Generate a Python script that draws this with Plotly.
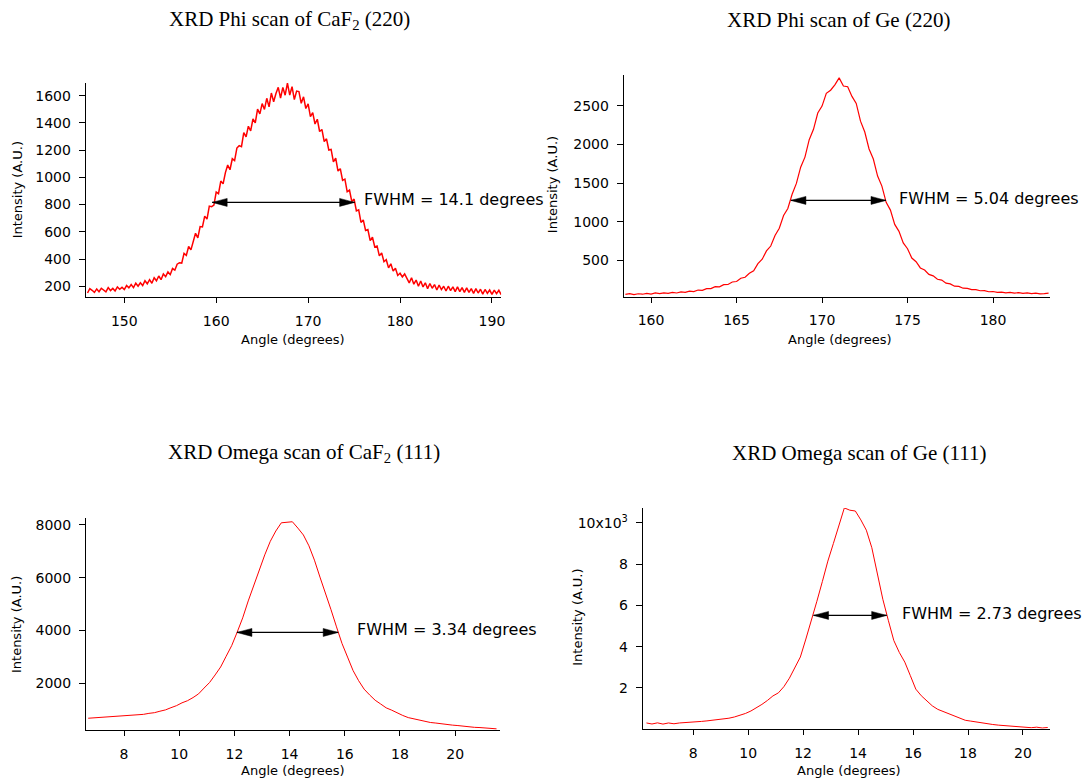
import plotly.graph_objects as go

W, H = 1089, 780

# ---------------- data ----------------
# Phi scan of CaF2 (220): angle grid start/step and intensities
phi_caf2_start, phi_caf2_step = 146.0, 0.25
phi_caf2_intensity = [
    150, 182, 170, 155,   180, 160, 185, 172,   158, 190, 168, 184,   165, 195, 178, 192,
    175, 205, 188, 212,   190, 222, 200, 225,   205, 240, 218, 248,   222, 262, 240, 275,
    248, 290, 270, 305,   285, 330, 318, 362,   373, 370, 441, 427,   492, 467, 538, 589,
    555, 638, 636, 715,   693, 789, 785, 796,   892, 880, 973, 952,   1035, 1091, 1056, 1137,
    1123, 1215, 1233, 1225, 1328, 1297, 1376, 1341, 1430, 1400, 1501, 1466, 1542, 1499, 1581, 1518,
    1620, 1556, 1616, 1662, 1583, 1661, 1604, 1692, 1605, 1666, 1572, 1634, 1630, 1544, 1592, 1506,
    1540, 1446, 1476, 1392, 1427, 1337, 1352, 1263, 1283, 1201, 1205, 1113, 1142, 1046, 1064, 978,
    987, 894, 906, 823,   840, 753, 761, 669,   687, 610, 617, 535,   560, 489, 496, 423,
    445, 380, 395, 335,   365, 311, 332, 279,   295, 268, 290, 255,   225, 262, 215, 245,
    200, 238, 195, 225,   182, 220, 185, 212,   172, 208, 175, 200,   165, 200, 168, 195,
    160, 195, 160, 190,   155, 188, 155, 182,   148, 182, 150, 178,   142, 176, 148, 172,
    140, 172, 145, 170,   138,
]

# Phi scan of Ge (220)
phi_ge_start, phi_ge_step = 158.5, 0.25
phi_ge_intensity = [
    60, 70, 58, 68, 62, 74, 64, 78, 70, 80,
    74, 86, 78, 92, 86, 102, 96, 116, 112, 134,
    134, 160, 158, 186, 188, 220, 226, 268, 282, 332,
    365, 458, 515, 622, 685, 822, 915, 1080, 1170, 1355,
    1495, 1705, 1835, 2060, 2195, 2405, 2495, 2660, 2700, 2770,
    2860, 2755, 2745, 2620, 2530, 2300, 2160, 1940, 1810, 1590,
    1460, 1250, 1150, 965, 875, 725, 650, 530, 482, 402,
    375, 318, 300, 255, 245, 205, 196, 166, 163, 140,
    138, 121, 122, 107, 108, 94, 97, 86, 90, 80,
    85, 76, 82, 72, 79, 70, 75, 66, 70, 76,
]

# Omega scan of CaF2 (111)
omega_caf2_start, omega_caf2_step = 6.7, 0.2
omega_caf2_intensity = [
    690, 705, 708, 725, 732, 752, 758, 780, 790, 818,
    836, 874, 900, 955, 1005, 1088, 1165, 1272, 1352, 1470,
    1610, 1830, 2040, 2325, 2625, 3030, 3430, 3940, 4480, 5120,
    5700, 6340, 6860, 7370, 7760, 8070, 8100, 8110, 7870, 7610,
    7200, 6660, 6020, 5430, 4790, 4140, 3510, 3000, 2490, 2110,
    1790, 1570, 1370, 1228, 1082, 995, 884, 795, 714, 664,
    604, 568, 530, 508, 476, 458, 430, 413, 386, 372,
    346, 338, 314, 307, 290,
]

# Omega scan of Ge (111)
omega_ge_start, omega_ge_step = 6.3, 0.2
omega_ge_intensity = [
    300, 250, 305, 245, 300, 260, 300, 310, 330, 345,
    375, 400, 425, 455, 490, 530, 590, 660, 760, 880,
    1030, 1200, 1390, 1610, 1760, 2060, 2470, 2950, 3500, 4370,
    5250, 6200, 7160, 8150, 9000, 9820, 10730, 10620, 10580, 10150,
    9650, 8800, 7550, 6300, 5280, 4300, 3720, 3250, 2600, 1940,
    1620, 1370, 1130, 960, 850, 740, 640, 530, 430, 390,
    340, 300, 260, 225, 195, 170, 150, 135, 118, 105,
    70, 95, 55, 80,
]

panel_titles = [
    "XRD Phi scan of CaF<sub>2</sub> (220)",
    "XRD Phi scan of Ge (220)",
    "XRD Omega scan of CaF<sub>2</sub> (111)",
    "XRD Omega scan of Ge (111)",
]
fwhm_labels = [
    "FWHM = 14.1 degrees",
    "FWHM = 5.04 degrees",
    "FWHM = 3.34 degrees",
    "FWHM = 2.73 degrees",
]
x_title = "Angle (degrees)"
y_title = "Intensity (A.U.)"

x_tickvals = [[150, 160, 170, 180, 190], [160, 165, 170, 175, 180],
              [8, 10, 12, 14, 16, 18, 20], [8, 10, 12, 14, 16, 18, 20]]
y_tickvals = [[200, 400, 600, 800, 1000, 1200, 1400, 1600],
              [500, 1000, 1500, 2000, 2500],
              [2000, 4000, 6000, 8000],
              [2000, 4000, 6000, 8000, 10000]]
y_ticktext_ge_omega = ["2", "4", "6", "8", "10x10<sup>3</sup>"]


def angles(start, step, n):
    return [round(start + i * step, 4) for i in range(n)]


series = [
    (angles(phi_caf2_start, phi_caf2_step, len(phi_caf2_intensity)), phi_caf2_intensity, 1.5),
    (angles(phi_ge_start, phi_ge_step, len(phi_ge_intensity)), phi_ge_intensity, 1.2),
    (angles(omega_caf2_start, omega_caf2_step, len(omega_caf2_intensity)), omega_caf2_intensity, 1.0),
    (angles(omega_ge_start, omega_ge_step, len(omega_ge_intensity)), omega_ge_intensity, 1.0),
]

# ---------------- layout geometry (pixels) ----------------
plot_px = [  # x0, x1, ytop, ybottom
    (86, 503, 81, 296),
    (626, 1054, 73.5, 295.3),
    (86.3, 501.7, 517.5, 730),
    (645, 1053.5, 507.3, 728.7),
]
x_ranges = [[145.8, 191.0], [158.4, 183.34], [6.62, 21.62], [6.16, 20.97]]
y_ranges = [[119, 1695], [32, 2893], [241, 8245], [15, 10726]]

title_pos = [(168, 18), (728, 18), (167, 452), (733, 452)]
xtitle_pos = [(294.5, 338), (842.8, 338), (294, 770.5), (852.4, 770)]
ytitle_pos = [(17.4, 188.5), (554.4, 183.3), (16.7, 624), (578.8, 616.7)]
# FWHM arrow: x_left, x_right, y, text_x, text_y (data coordinates)
fwhm_geom = [
    (159.56, 175.06, 816, 175.85, 835),
    (168.18, 173.74, 1275, 174.36, 1304),
    (12.09, 15.76, 3930, 16.36, 4046),
    (12.38, 15.04, 5516, 15.52, 5598),
]

TICKFONT = dict(family="DejaVu Sans", size=14, color="black")
LABELFONT = dict(family="DejaVu Sans", size=13, color="black")

fig = go.Figure()
annotations = []
shapes = []
layout = {}

for i, (xs, ys, lw) in enumerate(series):
    n = "" if i == 0 else str(i + 1)
    fig.add_trace(go.Scatter(x=xs, y=ys, mode="lines",
                             line=dict(color="#ff0000", width=lw),
                             xaxis="x" + n, yaxis="y" + n,
                             showlegend=False, hoverinfo="skip"))
    x0, x1, yt, yb = plot_px[i]
    xa = dict(domain=[x0 / W, x1 / W], range=x_ranges[i], anchor="y" + n,
              showline=True, linecolor="black", linewidth=1,
              ticks="outside", ticklen=5, tickwidth=1, tickcolor="black",
              tickvals=x_tickvals[i], tickfont=TICKFONT, ticklabelstandoff=6,
              showgrid=False, zeroline=False, fixedrange=True)
    ya = dict(domain=[1 - yb / H, 1 - yt / H], range=y_ranges[i], anchor="x" + n,
              showline=True, linecolor="black", linewidth=1,
              ticks="outside", ticklen=6, tickwidth=1, tickcolor="black",
              tickvals=y_tickvals[i], tickfont=TICKFONT, ticklabelstandoff=5,
              showgrid=False, zeroline=False, fixedrange=True)
    if i == 3:
        ya["ticktext"] = y_ticktext_ge_omega
    layout["xaxis" + n] = xa
    layout["yaxis" + n] = ya

    # panel title
    tx, ty = title_pos[i]
    annotations.append(dict(text=panel_titles[i], xref="paper", yref="paper",
                            x=tx / W, y=1 - ty / H, xanchor="left", yanchor="middle",
                            showarrow=False,
                            font=dict(family="Liberation Serif", size=21, color="black")))
    # axis titles
    ax_, ay_ = xtitle_pos[i]
    annotations.append(dict(text=x_title, xref="paper", yref="paper",
                            x=ax_ / W, y=1 - ay_ / H, xanchor="center", yanchor="middle",
                            showarrow=False, font=LABELFONT))
    bx, by = ytitle_pos[i]
    annotations.append(dict(text=y_title, xref="paper", yref="paper",
                            x=bx / W, y=1 - by / H, xanchor="center", yanchor="middle",
                            textangle=-90, showarrow=False, font=LABELFONT))
    # FWHM arrow + label
    xl, xr, yv, ttx, tty = fwhm_geom[i]
    shapes.append(dict(type="line", xref="x" + n, yref="y" + n,
                       x0=xl, x1=xr, y0=yv, y1=yv,
                       line=dict(color="black", width=1.2)))
    for anchor_x, path in ((xl, "M0,0 L15,4 L15,-4 Z"), (xr, "M0,0 L-15,4 L-15,-4 Z")):
        shapes.append(dict(type="path", xref="x" + n, yref="y" + n,
                           xsizemode="pixel", ysizemode="pixel",
                           xanchor=anchor_x, yanchor=yv, path=path,
                           fillcolor="black", line=dict(color="black", width=0.5)))
    annotations.append(dict(text=fwhm_labels[i], xref="x" + n, yref="y" + n,
                            x=ttx, y=tty, xanchor="left", yanchor="middle",
                            showarrow=False,
                            font=dict(family="DejaVu Sans", size=16, color="black")))

fig.update_layout(
    width=W, height=H,
    margin=dict(l=0, r=0, t=0, b=0),
    paper_bgcolor="white", plot_bgcolor="white",
    annotations=annotations, shapes=shapes,
    hovermode=False,
    **layout,
)

fig.write_html("out.html",
               config={"displayModeBar": False, "staticPlot": True},
               post_script="document.body.style.margin='0';document.body.style.overflow='hidden';")
